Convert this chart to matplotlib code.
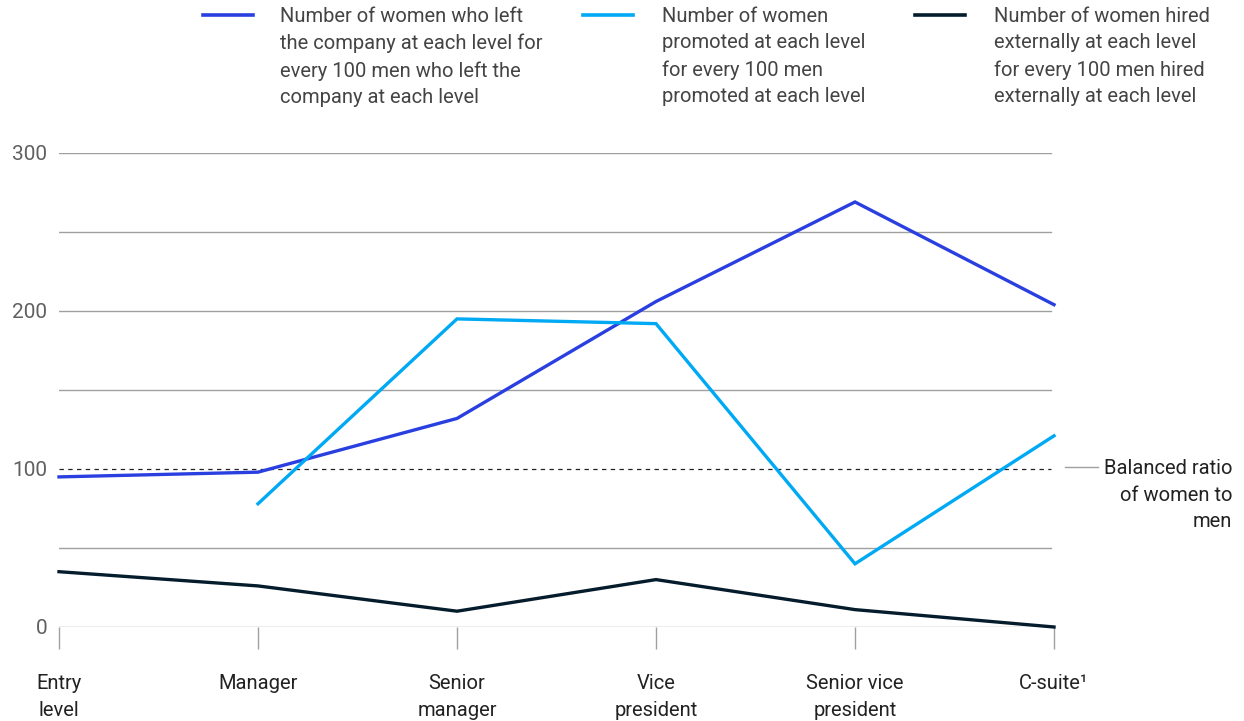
import matplotlib
matplotlib.use("Agg")
import matplotlib.pyplot as plt
from matplotlib.lines import Line2D

plt.rcParams['font.family'] = ['Roboto', 'DejaVu Sans']

categories = ["Entry\nlevel", "Manager", "Senior\nmanager", "Vice\npresident", "Senior vice\npresident", "C-suite¹"]
left_company = [95, 98, 132, 206, 269, 204]
promoted = [None, 78, 195, 192, 40, 121]
hired_external = [35, 26, 10, 30, 11, 0]
y_ticks = [0, 100, 200, 300]
grid_levels = [0, 50, 150, 200, 250, 300]
balanced = 100

legend_labels = [
    "Number of women who left\nthe company at each level for\nevery 100 men who left the\ncompany at each level",
    "Number of women\npromoted at each level\nfor every 100 men\npromoted at each level",
    "Number of women hired\nexternally at each level\nfor every 100 men hired\nexternally at each level",
]
c_left = "#2A3FE0"
c_prom = "#00A9F4"
c_hire = "#051C2C"
colors = [c_left, c_prom, c_hire]

W, H = 1244, 721
fig = plt.figure(figsize=(W/100, H/100), dpi=100)
x0, x1 = 59, 1054
y0, y1 = 627, 153
ax = fig.add_axes([x0/W, 1 - y0/H, (x1-x0)/W, (y0-y1)/H])
ax.set_xlim(0, 5)
ax.set_ylim(0, 300)
for s in ax.spines.values():
    s.set_visible(False)

for g in grid_levels:
    ax.axhline(g, xmin=0, xmax=0.997, color="#A0A0A0", lw=1.0, zorder=1)
ax.axhline(balanced, xmin=0, xmax=0.997, color="#222222", lw=0.9, ls=(0, (3.5, 3.5)), zorder=1)

xs = list(range(len(categories)))
ax.plot(xs, left_company, color=c_left, lw=2.4, zorder=3, clip_on=False, solid_joinstyle='miter')
px = [x for x, v in zip(xs, promoted) if v is not None]
pv = [v for v in promoted if v is not None]
ax.plot(px, pv, color=c_prom, lw=2.4, zorder=3, clip_on=False, solid_joinstyle='miter')
ax.plot(xs, hired_external, color=c_hire, lw=2.4, zorder=3, clip_on=False, solid_joinstyle='miter')

ax.set_xticks(xs)
ax.set_xticklabels(categories, fontsize=14.5, color="#222222", linespacing=1.5)
ax.tick_params(axis='x', length=16, width=1, color="#A0A0A0", pad=18)
ax.set_yticks(y_ticks)
ax.set_yticklabels([str(v) for v in y_ticks], fontsize=15, color="#606060")
ax.tick_params(axis='y', length=0, pad=8.5)

# Balanced ratio annotation
fig.add_artist(Line2D([1065/W, 1098/W], [1-467/H, 1-467/H], color="#A0A0A0", lw=1))
fig.text(1232/W, 1-459/H, "Balanced ratio\nof women to\nmen", ha="right", va="top",
         fontsize=14.5, color="#222222", linespacing=1.5, transform=fig.transFigure)

# Legend
leg_line_x = [(203, 253), (583, 633), (915, 965)]
leg_text_x = [280, 662, 994]
for (lx0, lx1), tx, lab, col in zip(leg_line_x, leg_text_x, legend_labels, colors):
    fig.add_artist(Line2D([lx0/W, lx1/W], [1-15/H, 1-15/H], color=col, lw=2.6))
    fig.text(tx/W, 1-7/H, lab, ha="left", va="top", fontsize=14.5, color="#444444",
             linespacing=1.5)

fig.savefig("out.png", dpi=100)
